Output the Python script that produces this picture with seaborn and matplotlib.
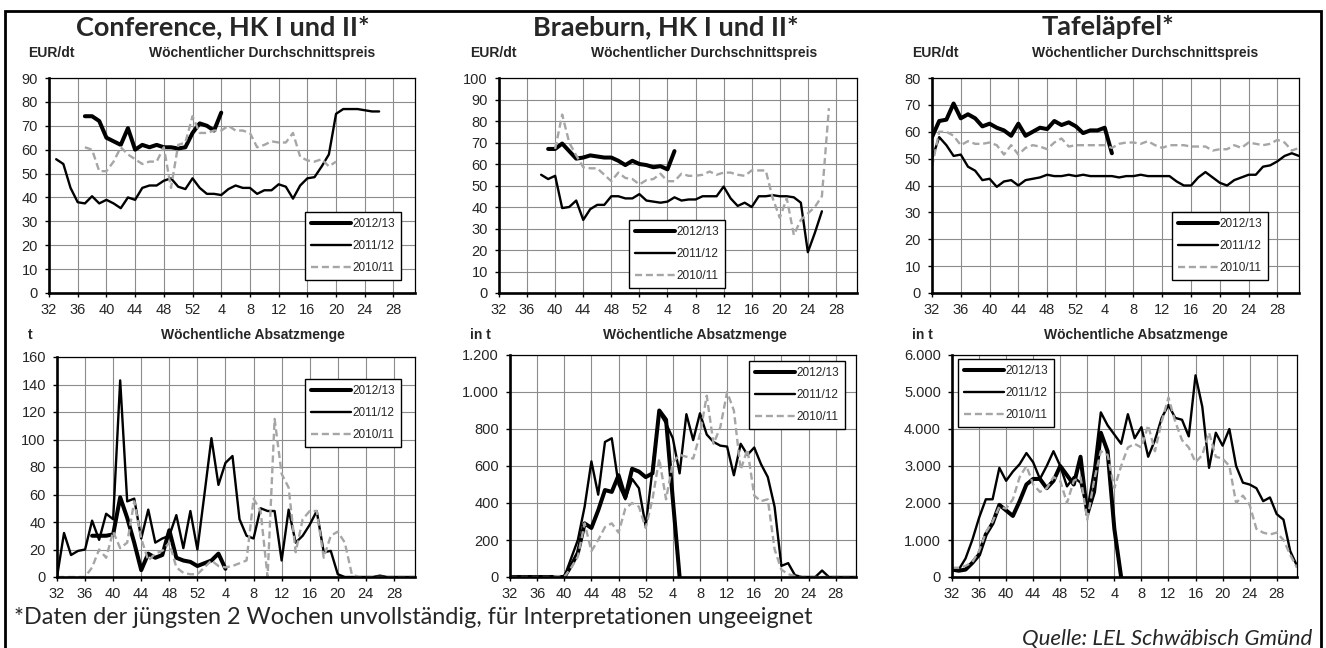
import numpy as np
import pandas as pd
import matplotlib
matplotlib.use("Agg")
import matplotlib.pyplot as plt
import seaborn as sns
from matplotlib.patches import Rectangle

# Kalenderwochen eines Wirtschaftsjahres: KW 32..52, dann 1..31
WEEKS = list(range(32, 53)) + list(range(1, 32))
TICK_WEEKS = WEEKS[::4]

SEASONS = ["2012/13", "2011/12", "2010/11"]

# ---- Conference, Preis (EUR/dt) ----
conf_price_start = [37, 33, 37]
conf_price_1213 = [74, 74, 72, 65, 63.5, 62, 69, 60, 62, 61, 62, 61, 61, 60.5, 61,
                   67, 71, 70, 68, 75.5]
conf_price_1112 = [56, 54, 44, 38, 37.5, 40.5, 37.5, 39, 37.5, 35.5, 40, 39, 44, 45, 45,
                   47, 48, 44.5, 43.5, 48,
                   44, 41.5, 41.5, 41, 43.5, 45, 44, 44, 41.5, 43, 43, 45.5, 44.5, 39.5,
                   45, 48, 48.5, 53, 58, 75, 77, 77, 77, 76.5, 76, 76]
conf_price_1011 = [61, 60, 51, 51, 55, 61, 58, 56, 54, 55, 55, 61, 44, 62, 63, 74,
                   67, 67, 68, 68, 70, 68, 68, 67, 61, 62, 63.5, 63, 63, 67, 57, 55.5,
                   55, 56, 53, 55]

# ---- Braeburn, Preis (EUR/dt) ----
brae_price_start = [39, 38, 40]
brae_price_1213 = [67, 67, 69.5, 66, 62.5, 63, 64, 63.5, 63, 63, 61.5, 59.5, 61.5, 60,
                   59.5, 58.5, 59, 57.5, 66]
brae_price_1112 = [55, 53, 54.5, 39.5, 40, 43, 34, 39, 41, 41, 45, 45, 44, 44, 46,
                   43, 42.5, 42, 42.5, 44.5, 43, 43.5, 43.5, 45, 45, 45, 49.5, 44, 40.5,
                   42, 40, 45, 45, 45.5, 45, 45, 44.5, 42, 19, 28, 38]
brae_price_1011 = [67, 83, 70, 64, 58.5, 58, 58, 55, 52, 56, 53.5, 53, 50.5,
                   52.5, 53, 55.5, 52, 52, 55.5, 54.5, 54.5, 55, 56.5, 55, 56, 56, 55,
                   54.5, 57, 57, 57, 44, 35, 44, 27, 34, 37, 40, 45, 86]

# ---- Tafeläpfel, Preis (EUR/dt) ----
tafel_price_start = [32, 32, 32]
tafel_price_1213 = [58, 64, 64.5, 70.5, 65, 66.5, 65, 62, 63, 61.5, 60.5, 58.5, 63, 58.5,
                    60, 61.5, 61, 64, 62.5, 63.5, 62,
                    59.5, 60.5, 60.5, 61.5, 52]
tafel_price_1112 = [50, 58, 55, 51, 51.5, 47, 45.5, 42, 42.5, 39.5, 41.5, 42, 40, 42,
                    42.5, 43, 44, 43.5, 43.5, 44, 43.5,
                    44, 43.5, 43.5, 43.5, 43.5, 43, 43.5, 43.5, 44, 43.5, 43.5, 43.5,
                    43.5, 41.5, 40, 40, 43, 45, 43, 41, 40, 42, 43, 44, 44, 47, 47.5,
                    49, 51, 52, 51]
tafel_price_1011 = [47, 60, 60, 58.5, 55, 56.5, 55.5, 55.5, 56, 55, 51.5, 55, 51.5, 54,
                    55, 54.5, 53.5, 56, 57.5, 54.5, 55,
                    55, 55, 55, 55, 54, 55.5, 56, 56, 55.5, 56.5, 55, 54, 55, 55, 55,
                    54.5, 54.5, 54.5, 53, 53.5, 53.5, 55, 54, 56, 55.5, 55, 55.5, 57,
                    56, 53, 54]

# ---- Conference, Menge (t) ----
conf_qty_start = [37, 32, 32]
conf_qty_1213 = [30, 30, 30, 31, 58, 43, 25, 5, 17, 14, 16, 34, 14, 12, 11, 8,
                 10, 12, 17, 6]
conf_qty_1112 = [0, 32, 16, 19, 20, 41, 27, 46, 42, 143, 55, 57, 28, 49, 25, 28, 30,
                 45, 21, 48, 20,
                 60, 101, 67, 83, 88, 42, 30, 28, 50, 48, 48, 12, 49, 25, 30, 38, 48,
                 18, 19, 2, 0, 0, 0, 0, 0, 1, 0, 0, 0, 0, 0]
conf_qty_1011 = [0, 0, 0, 0, 0, 7, 20, 14, 33, 21, 25, 55, 28, 12, 17, 19, 25, 7, 3,
                 2, 2,
                 7, 12, 8, 7, 8, 10, 12, 57, 48, 0, 115, 75, 65, 18, 42, 48, 48, 14,
                 30, 33, 25, 2, 0, 0, 0, 0, 0, 0, 0, 0, 0]

# ---- Braeburn, Menge (t) ----
brae_qty_start = [32, 32, 32]
brae_qty_1213 = [0, 0, 0, 0, 0, 0, 0, 0, 0, 60, 130, 290, 265, 360, 470, 460, 550,
                 430, 585, 570, 540,
                 560, 900, 850, 420, 0]
brae_qty_1112 = [0, 0, 0, 0, 0, 0, 0, 0, 0, 100, 200, 380, 625, 445, 730, 750, 500,
                 420, 530, 480, 275,
                 580, 890, 830, 750, 560, 880, 740, 885, 770, 730, 710, 705, 550, 720,
                 660, 700, 610, 540, 380, 60, 75, 10, 0, 0, 0, 35, 0, 0, 0, 0, 0]
brae_qty_1011 = [0, 0, 0, 0, 0, 0, 0, 5, 0, 50, 110, 290, 140, 200, 270, 290, 240,
                 370, 400, 380, 265,
                 420, 640, 420, 620, 660, 650, 640, 770, 980, 720, 810, 1000, 900,
                 580, 690, 440, 410, 420, 150, 40, 15, 5, 0, 0, 0, 0, 0, 0, 0, 0, 0]

# ---- Tafeläpfel, Menge (t) ----
tafel_qty_start = [32, 32, 32]
tafel_qty_1213 = [200, 170, 200, 380, 600, 1150, 1450, 1950, 1800, 1650, 2050, 2500,
                  2650, 2650, 2400, 2600, 3000, 2750, 2500, 3250, 1700,
                  2300, 3900, 3400, 1300, 0]
tafel_qty_1112 = [200, 200, 500, 1000, 1600, 2100, 2100, 2950, 2600, 2850, 3050, 3350,
                  3100, 2650, 3000, 3400, 3000, 2450, 2700, 2550, 1800,
                  2900, 4450, 4100, 3850, 3600, 4400, 3750, 4050, 3250, 3700, 4300,
                  4650, 4300, 4250, 3800, 5450, 4600, 2950, 3900, 3550, 4000, 3000,
                  2550, 2500, 2400, 2050, 2150, 1700, 1550, 700, 300]
tafel_qty_1011 = [250, 250, 300, 400, 700, 1200, 1500, 1900, 1850, 2100, 2700, 3000,
                  2500, 2300, 2400, 2700, 2600, 2000, 2600, 2700, 1550,
                  2600, 3400, 3300, 2400, 3000, 3500, 3600, 3500, 4100, 3400, 4200,
                  4850, 4200, 3700, 3500, 3100, 3300, 3900, 3250, 3200, 3000, 2000,
                  2200, 1950, 1300, 1200, 1150, 1200, 1000, 600, 250]

# ---- Texte ----
titles = ["Conference, HK I und II*", "Braeburn, HK I und II*", "Tafeläpfel*"]
price_title = "Wöchentlicher Durchschnittspreis"
qty_title = "Wöchentliche Absatzmenge"
price_units = ["EUR/dt", "EUR/dt", "EUR/dt"]
qty_units = ["t", "in t", "in t"]
footnote = "*Daten der jüngsten 2 Wochen unvollständig, für Interpretationen ungeeignet"
source = "Quelle: LEL Schwäbisch Gmünd"

STYLES = [dict(color="black", linewidth=2.9, linestyle="-"),
          dict(color="black", linewidth=1.7, linestyle="-"),
          dict(color="#a6a6a6", linewidth=1.7, linestyle=(0, (3, 1.6)))]

sns.set_style("white")
plt.rcParams["font.family"] = ["Liberation Sans", "DejaVu Sans"]

W, H = 1326, 648
fig = plt.figure(figsize=(W / 100, H / 100), dpi=100)


def px_axes(l, t, r, b):
    return fig.add_axes([l / W, 1 - b / H, (r - l) / W, (b - t) / H])


def de_num(v):
    return "{:,}".format(int(v)).replace(",", ".")


def draw_panel(ax, starts, series, ymax, ystep, legend_xy):
    for season, start, vals, st in zip(SEASONS, starts, series, STYLES):
        i0 = WEEKS.index(start)
        df = pd.DataFrame({"pos": np.arange(i0, i0 + len(vals)), "val": vals})
        sns.lineplot(data=df, x="pos", y="val", ax=ax, label=season,
                     color=st["color"], linewidth=st["linewidth"],
                     linestyle=st["linestyle"])
    ax.set_xlim(0, 51)
    ax.set_ylim(0, ymax)
    xt = np.arange(0, len(WEEKS), 4)
    ax.set_xticks(xt)
    ax.set_xticklabels([str(w) for w in TICK_WEEKS])
    yt = np.arange(0, ymax + ystep / 2, ystep)
    ax.set_yticks(yt)
    ax.set_yticklabels([de_num(v) for v in yt])
    ax.grid(True, color="#8c8c8c", linewidth=0.8)
    ax.set_axisbelow(True)
    ax.set_xlabel("")
    ax.set_ylabel("")
    for side in ["left", "bottom"]:
        ax.spines[side].set_linewidth(1.9)
        ax.spines[side].set_color("black")
    for side in ["top", "right"]:
        ax.spines[side].set_linewidth(0.9)
        ax.spines[side].set_color("black")
    ax.tick_params(axis="both", direction="out", length=3, width=1,
                   color="black", labelsize=10.5, bottom=True, left=True)
    ax.tick_params(axis="x", pad=4)
    ax.tick_params(axis="y", pad=5)
    leg = ax.legend(loc="upper left", bbox_to_anchor=(legend_xy[0] / W, 1 - legend_xy[1] / H),
                    bbox_transform=fig.transFigure, borderaxespad=0, fontsize=8.5,
                    handlelength=3.4, handletextpad=0.1, labelspacing=0.85,
                    borderpad=0.5, fancybox=False, framealpha=1, edgecolor="black")
    leg.get_frame().set_linewidth(1.0)


top_boxes = [(49, 78, 415, 293), (499, 78, 857, 293), (932, 78, 1299, 293)]
bot_boxes = [(57, 357, 415, 577), (510, 355, 856, 577), (952, 355, 1297, 577)]

price_panels = [
    (conf_price_start, [conf_price_1213, conf_price_1112, conf_price_1011], 90, 10, (305, 212)),
    (brae_price_start, [brae_price_1213, brae_price_1112, brae_price_1011], 100, 10, (629, 220)),
    (tafel_price_start, [tafel_price_1213, tafel_price_1112, tafel_price_1011], 80, 10, (1172, 212)),
]
qty_panels = [
    (conf_qty_start, [conf_qty_1213, conf_qty_1112, conf_qty_1011], 160, 20, (305, 379)),
    (brae_qty_start, [brae_qty_1213, brae_qty_1112, brae_qty_1011], 1200, 200, (749, 361)),
    (tafel_qty_start, [tafel_qty_1213, tafel_qty_1112, tafel_qty_1011], 6000, 1000, (958, 359)),
]

for box, (starts, series, ymax, ystep, lxy) in zip(top_boxes, price_panels):
    draw_panel(px_axes(*box), starts, series, ymax, ystep, lxy)
for box, (starts, series, ymax, ystep, lxy) in zip(bot_boxes, qty_panels):
    draw_panel(px_axes(*box), starts, series, ymax, ystep, lxy)

# Überschriften
title_x = [223, 666, 1108]
sub_x = [262, 704, 1145]
unit_top_x = [28, 470, 912]
unit_bot_x = [28, 470, 912]
for k in range(3):
    fig.text(title_x[k] / W, 1 - 27 / H, titles[k], ha="center", va="center",
             fontsize=19.5, fontweight="bold", family=["Lato", "DejaVu Sans"])
    fig.text(unit_top_x[k] / W, 1 - 53 / H, price_units[k], ha="left", va="center",
             fontsize=10, fontweight="bold")
    fig.text(sub_x[k] / W, 1 - 53 / H, price_title, ha="center", va="center",
             fontsize=10, fontweight="bold")
    fig.text(unit_bot_x[k] / W, 1 - 335 / H, qty_units[k], ha="left", va="center",
             fontsize=10, fontweight="bold")
    fig.text((sub_x[k] - 9) / W, 1 - 335 / H, qty_title, ha="center", va="center",
             fontsize=10, fontweight="bold")

fig.text(14 / W, 1 - 617 / H, footnote, ha="left", va="center", fontsize=16.8,
         family=["Lato", "DejaVu Sans"])
fig.text(1312 / W, 1 - 629 / H, source, ha="right", va="top", fontsize=16,
         style="italic", family=["Lato", "DejaVu Sans"])

# Rahmen um die ganze Grafik
fig.patches.append(Rectangle((5 / W, -0.02), 1316 / W, 1 - 11 / H + 0.02,
                             transform=fig.transFigure, fill=False,
                             edgecolor="black", linewidth=2, zorder=10))

fig.savefig("out.png", dpi=100)
